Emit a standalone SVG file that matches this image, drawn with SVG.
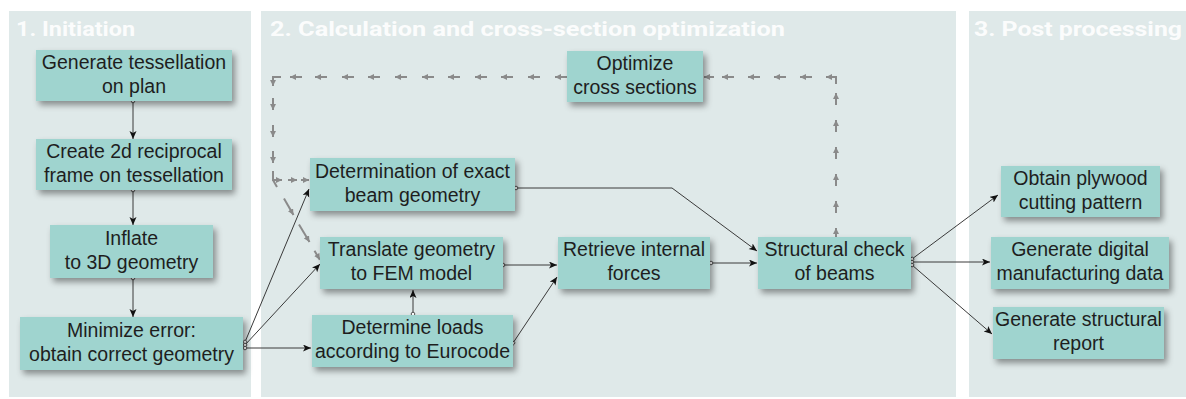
<svg xmlns="http://www.w3.org/2000/svg" width="1186" height="399" viewBox="0 0 1186 399">
<defs>
<style>
.panel{fill:#dfe9e9}
.title{font-family:"Roboto","Liberation Sans",sans-serif;font-weight:bold;font-size:21px;fill:#ffffff;fill-opacity:0.9}
.box{fill:#9fd4cf;filter:url(#sh)}
.lbl{font-family:"Liberation Sans","Arial",sans-serif;font-size:19.5px;fill:#1e1e1e;text-anchor:middle}
.con{fill:none;stroke:#3a3a3a;stroke-width:1;marker-end:url(#ah);marker-start:url(#dot)}
.con2{fill:none;stroke:#3a3a3a;stroke-width:1;marker-end:url(#ah)}
.dsh{fill:none;stroke:#8a8a8a;stroke-width:2;marker-end:url(#ga)}
.dshn{fill:none;stroke:#8a8a8a;stroke-width:2}
</style>
<filter id="sh" x="-10%" y="-20%" width="125%" height="150%">
<feDropShadow dx="3" dy="4" stdDeviation="3" flood-color="#000" flood-opacity="0.4"/>
</filter>
<marker id="ah" markerUnits="userSpaceOnUse" markerWidth="9" markerHeight="8" refX="8" refY="3.5" orient="auto">
<path d="M0,0 L8,3.5 L0,7 L2,3.5 z" fill="#111"/>
</marker>
<marker id="dot" markerUnits="userSpaceOnUse" markerWidth="6" markerHeight="6" refX="3" refY="3" orient="auto">
<circle cx="3" cy="3" r="1.8" fill="#fff" stroke="#333" stroke-width="0.8"/>
</marker>
<marker id="ga" markerUnits="userSpaceOnUse" markerWidth="7" markerHeight="6" refX="6" refY="3" orient="auto">
<path d="M0,0 L6,3 L0,6 z" fill="#8a8a8a"/>
</marker>
</defs>
<rect width="1186" height="399" fill="#ffffff"/>
<g id="panels">
<rect class="panel" x="9" y="11" width="242" height="386"/>
<rect class="panel" x="261" y="11" width="695" height="386"/>
<rect class="panel" x="969" y="11" width="217" height="386"/>
<text class="title" x="16" y="36" textLength="119" lengthAdjust="spacingAndGlyphs">1. Initiation</text>
<text class="title" x="270" y="36" textLength="515" lengthAdjust="spacingAndGlyphs">2. Calculation and cross-section optimization</text>
<text class="title" x="974" y="36" textLength="208" lengthAdjust="spacingAndGlyphs">3. Post processing</text>
</g>
<g id="connectors">
<line class="con" x1="133" y1="101" x2="133" y2="139"/>
<line class="con" x1="133" y1="190" x2="133" y2="225"/>
<line class="con" x1="133" y1="278" x2="133" y2="317"/>
<line class="con" x1="245" y1="342" x2="309" y2="189"/>
<line class="con" x1="245" y1="345" x2="320" y2="264"/>
<line class="con" x1="245" y1="348" x2="311" y2="348"/>
<line class="con" x1="413" y1="314" x2="413" y2="290"/>
<line class="con" x1="503" y1="265" x2="557" y2="265"/>
<line class="con" x1="513" y1="343" x2="557" y2="277"/>
<polyline class="con" points="516,188 672,188 757,251"/>
<line class="con" x1="711" y1="263" x2="757" y2="263"/>
<line class="con" x1="912" y1="259" x2="998" y2="195"/>
<line class="con" x1="912" y1="262" x2="990" y2="262"/>
<line class="con" x1="912" y1="265" x2="992" y2="334"/>
<g id="feedback">
<line class="dsh" x1="836" y1="237" x2="836" y2="228"/>
<line class="dsh" x1="836" y1="213" x2="836" y2="201"/>
<line class="dsh" x1="836" y1="186" x2="836" y2="174"/>
<line class="dsh" x1="836" y1="159" x2="836" y2="147"/>
<line class="dsh" x1="836" y1="132" x2="836" y2="120"/>
<line class="dsh" x1="836" y1="105" x2="836" y2="93"/>
<polyline class="dsh" points="836,84 836,77 826,77"/>
<line class="dsh" x1="812" y1="77" x2="800" y2="77"/>
<line class="dsh" x1="786" y1="77" x2="774" y2="77"/>
<line class="dsh" x1="760" y1="77" x2="748" y2="77"/>
<line class="dsh" x1="734" y1="77" x2="722" y2="77"/>
<line class="dsh" x1="714" y1="77" x2="704" y2="77"/>
<line class="dsh" x1="567" y1="77" x2="555" y2="77"/>
<line class="dsh" x1="540" y1="77" x2="528" y2="77"/>
<line class="dsh" x1="513" y1="77" x2="501" y2="77"/>
<line class="dsh" x1="487" y1="77" x2="475" y2="77"/>
<line class="dsh" x1="460" y1="77" x2="448" y2="77"/>
<line class="dsh" x1="434" y1="77" x2="422" y2="77"/>
<line class="dsh" x1="407" y1="77" x2="395" y2="77"/>
<line class="dsh" x1="380" y1="77" x2="368" y2="77"/>
<line class="dsh" x1="354" y1="77" x2="342" y2="77"/>
<line class="dsh" x1="327" y1="77" x2="315" y2="77"/>
<line class="dsh" x1="302" y1="77" x2="290" y2="77"/>
<polyline class="dsh" points="281,77 273,77 273,86"/>
<line class="dsh" x1="273" y1="98" x2="273" y2="110"/>
<line class="dsh" x1="273" y1="125" x2="273" y2="137"/>
<line class="dsh" x1="273" y1="151" x2="273" y2="163"/>
<polyline class="dsh" points="273,171 273,180 282,180"/>
<line class="dshn" x1="273" y1="180" x2="277" y2="187"/>
<line class="dsh" x1="288" y1="180" x2="297" y2="180"/>
<line class="dsh" x1="301" y1="180" x2="309" y2="180"/>
<line class="dsh" x1="284" y1="198.5" x2="293.5" y2="215"/>
<line class="dsh" x1="299" y1="224.5" x2="309.5" y2="242"/>
<line class="dsh" x1="314.5" y1="250.7" x2="319.8" y2="259.7"/>
</g>
</g>
<g id="n1"><rect class="box" x="36" y="50" width="196" height="51"/><text class="lbl" x="134" y="68.5">Generate tessellation</text><text class="lbl" x="134" y="92.5">on plan</text></g>
<g id="n2"><rect class="box" x="36" y="139" width="196" height="51"/><text class="lbl" x="134" y="157.5">Create 2d reciprocal</text><text class="lbl" x="134" y="181.5">frame on tessellation</text></g>
<g id="n3"><rect class="box" x="50" y="225" width="163" height="53"/><text class="lbl" x="131.5" y="244.5">Inflate</text><text class="lbl" x="131.5" y="268.5">to 3D geometry</text></g>
<g id="n4"><rect class="box" x="20" y="317" width="223" height="53"/><text class="lbl" x="131.5" y="336.5">Minimize error:</text><text class="lbl" x="131.5" y="360.5">obtain correct geometry</text></g>
<g id="n5"><rect class="box" x="567" y="51" width="136" height="51"/><text class="lbl" x="635" y="69.5">Optimize</text><text class="lbl" x="635" y="93.5">cross sections</text></g>
<g id="n6"><rect class="box" x="310" y="158" width="205" height="53"/><text class="lbl" x="412.5" y="177.5">Determination of exact</text><text class="lbl" x="412.5" y="201.5">beam geometry</text></g>
<g id="n7"><rect class="box" x="320" y="237" width="183" height="52"/><text class="lbl" x="411.5" y="256">Translate geometry</text><text class="lbl" x="411.5" y="280">to FEM model</text></g>
<g id="n8"><rect class="box" x="312" y="315" width="201" height="52"/><text class="lbl" x="412.5" y="334">Determine loads</text><text class="lbl" x="412.5" y="358">according to Eurocode</text></g>
<g id="n9"><rect class="box" x="558" y="237" width="152" height="52"/><text class="lbl" x="634" y="256">Retrieve internal</text><text class="lbl" x="634" y="280">forces</text></g>
<g id="n10"><rect class="box" x="758" y="237" width="153" height="52"/><text class="lbl" x="834.5" y="256">Structural check</text><text class="lbl" x="834.5" y="280">of beams</text></g>
<g id="n11"><rect class="box" x="1001" y="166" width="159" height="51"/><text class="lbl" x="1080.5" y="184.5">Obtain plywood</text><text class="lbl" x="1080.5" y="208.5">cutting pattern</text></g>
<g id="n12"><rect class="box" x="991" y="237" width="178" height="52"/><text class="lbl" x="1080" y="256">Generate digital</text><text class="lbl" x="1080" y="280">manufacturing data</text></g>
<g id="n13"><rect class="box" x="993" y="307" width="171" height="52"/><text class="lbl" x="1078.5" y="326">Generate structural</text><text class="lbl" x="1078.5" y="350">report</text></g>
</svg>
